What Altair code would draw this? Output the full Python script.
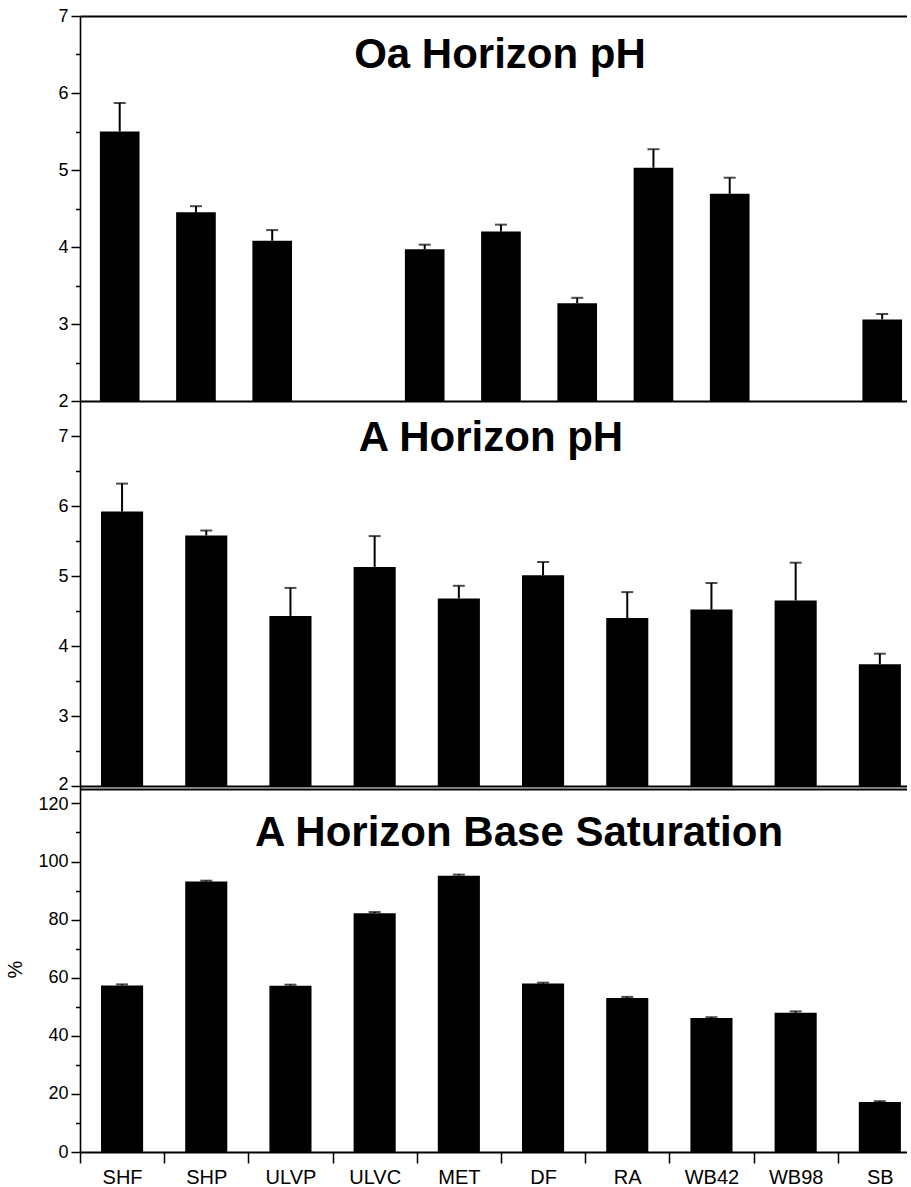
import altair as alt
import pandas as pd

FONT = "Liberation Sans"

# Sites along the shared x axis (bottom two panels)
sites = ["SHF", "SHP", "ULVP", "ULVC", "MET", "DF", "RA", "WB42", "WB98", "SB"]

# Oa horizon pH: eleven plotting positions, positions 4 and 10 carry no sample
oa_positions = ["p1", "p2", "p3", "p4", "p5", "p6", "p7", "p8", "p9", "p10", "p11"]
oa_ph = [5.50, 4.45, 4.08, None, 3.97, 4.20, 3.27, 5.03, 4.69, None, 3.06]
oa_ph_se = [0.37, 0.08, 0.14, None, 0.06, 0.09, 0.07, 0.24, 0.21, None, 0.07]

# A horizon pH
a_ph = [5.92, 5.58, 4.43, 5.13, 4.68, 5.01, 4.40, 4.52, 4.65, 3.74]
a_ph_se = [0.40, 0.07, 0.40, 0.44, 0.18, 0.19, 0.37, 0.38, 0.54, 0.15]

# A horizon base saturation (%)
a_base_sat = [57.3, 93.1, 57.2, 82.2, 95.1, 58.0, 53.0, 46.1, 47.9, 17.2]
a_base_sat_se = [0.4, 0.3, 0.4, 0.4, 0.4, 0.3, 0.4, 0.3, 0.5, 0.3]

ph_ticks = [2, 2.5, 3, 3.5, 4, 4.5, 5, 5.5, 6, 6.5, 7]
bs_ticks = [0, 10, 20, 30, 40, 50, 60, 70, 80, 90, 100, 110, 120]

titles = ["Oa Horizon pH", "A Horizon pH", "A Horizon Base Saturation"]

PLOT_W = 827


def table(cats, vals, errs):
    df = pd.DataFrame({"pos": cats, "val": vals, "err": errs}).astype(
        {"val": float, "err": float}
    )
    df["top"] = df["val"] + df["err"]
    return df


def y_axis(ticks, major, title=None, nudge_value=None, nudge=0):
    # major ticks are labelled, the ones in between are short and bare;
    # one label at a panel seam can be nudged clear of its neighbour
    extra = {}
    if nudge_value is not None:
        extra["labelOffset"] = {
            "condition": {"test": f"datum.value == {nudge_value}", "value": nudge},
            "value": 0,
        }
    return alt.Axis(
        values=ticks,
        title=title,
        grid=False,
        tickSize={"condition": {"test": f"datum.value % {major} != 0", "value": 4.5}, "value": 9},
        labelExpr=f"datum.value % {major} ? '' : format(datum.value, 'd')",
        labelFontSize=18,
        labelPadding=3,
        tickWidth=1.5,
        domainWidth=1.6,
        titleFontSize=20,
        titleFontWeight="normal",
        titlePadding=12,
        **extra,
    )


def panel(df, title, title_x, title_y, height, y_domain, ticks, major, base,
          pad_inner, pad_outer, align, bottom_axis, top_axis, y_title=None,
          nudge_value=None, nudge=0):
    xs = alt.Scale(domain=list(df["pos"]), paddingInner=pad_inner,
                   paddingOuter=pad_outer, align=align)
    ys = alt.Scale(domain=y_domain, nice=False, zero=False)
    ya = y_axis(ticks, major, y_title, nudge_value, nudge)
    src = alt.Chart(df)
    bars = src.mark_bar(color="black").encode(
        x=alt.X("pos:N", scale=xs, axis=bottom_axis, sort=None),
        y=alt.Y("val:Q", scale=ys, axis=ya),
        y2=alt.datum(base),
    )
    whiskers = src.mark_rule(color="black", strokeWidth=2).encode(
        x=alt.X("pos:N", scale=xs, axis=None, sort=None),
        y=alt.Y("val:Q", scale=ys, axis=ya),
        y2="top:Q",
    )
    caps = src.mark_tick(color="black", thickness=2, size=12).encode(
        x=alt.X("pos:N", scale=xs, axis=top_axis, sort=None),
        y=alt.Y("top:Q", scale=ys, axis=ya),
    )
    heading = alt.Chart(pd.DataFrame({"t": [title]})).mark_text(
        font=FONT, fontSize=42, fontWeight="bold", color="black",
        align="center", baseline="alphabetic",
    ).encode(text="t:N", x=alt.value(title_x), y=alt.value(title_y))
    return (
        alt.layer(bars, whiskers, caps, heading)
        .resolve_axis(x="independent")
        .properties(width=PLOT_W, height=height)
    )


line_only = dict(labels=False, ticks=False, title=None, domainWidth=2)

oa_df = table(oa_positions, oa_ph, oa_ph_se)
a_df = table(sites, a_ph, a_ph_se)
bs_df = table(sites, a_base_sat, a_base_sat_se)

p1 = panel(
    oa_df, titles[0], 420, 52, 385, [2, 7], ph_ticks, 1, 2,
    0.48, 0.163, 0.80,
    alt.Axis(**line_only),
    alt.Axis(orient="top", **line_only),
)
p2 = panel(
    a_df, titles[1], 411, 50, 385, [2, 7.5], ph_ticks, 1, 2,
    0.5, 0.161, 0.775,
    alt.Axis(**line_only),
    None,
    nudge_value=2, nudge=-2,
)
p3 = panel(
    bs_df, titles[2], 439, 60, 366, [0, 126], bs_ticks, 20, 0,
    0.5, 0.161, 0.775,
    alt.Axis(
        title=None, labelAngle=0, labelFontSize=20, labelPadding=4,
        tickSize=11, tickWidth=1.5, tickOffset=-42.1, labelOffset=42.1,
        domainWidth=2,
    ),
    alt.Axis(orient="top", offset=-3, **line_only),
    y_title="%",
    nudge_value=120, nudge=1.5,
)

chart = (
    alt.vconcat(p1, p2, p3, spacing=0, bounds="flush")
    .properties(
        padding={"left": 5, "top": 7, "right": 0, "bottom": 0},
        autosize=alt.AutoSizeParams(type="pad"),
        background="white",
    )
    .configure_view(stroke=None)
    .configure_axis(
        labelFont=FONT, titleFont=FONT, labelColor="black", titleColor="black",
        domainColor="black", tickColor="black",
    )
)

chart.save("out.html", embed_options={"renderer": "svg", "actions": False})
